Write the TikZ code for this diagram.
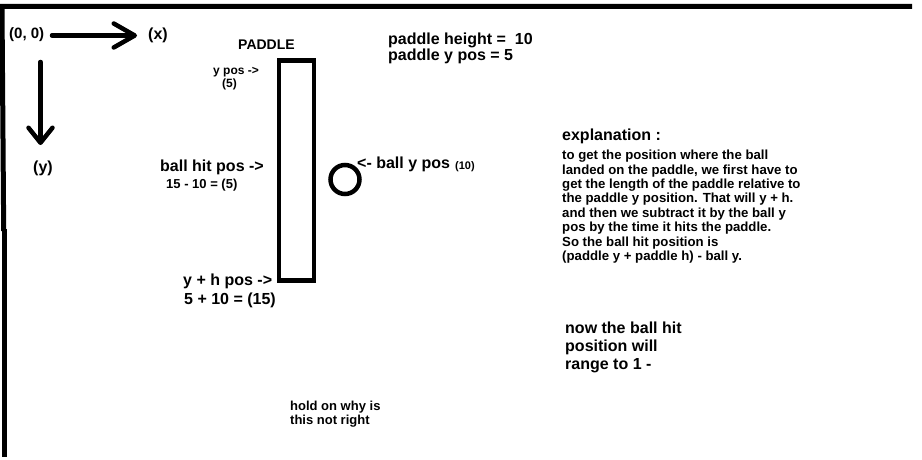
\documentclass[tikz,border=0pt]{standalone}
\usepackage{fontspec}
\setmainfont{Liberation Sans}
\usetikzlibrary{arrows.meta}

\tikzset{
  txt/.style={anchor=base west,inner sep=0pt,font=\bfseries\fontsize{16}{18}\selectfont},
  smalltxt/.style={txt,font=\bfseries\fontsize{12}{14}\selectfont},
  thickline/.style={line width=4.5pt},
  axis/.style={thickline,line cap=round}
}

\begin{document}
\begin{tikzpicture}[x=1pt,y=-1pt]
  \useasboundingbox (0,0) rectangle (922,460);

  % Frame
  \coordinate (TL) at (2,6.5);
  \coordinate (TR) at (912,6.5);
  \draw[line width=5pt] (TR) -- (TL) -- (3.7,231);
  \draw[line width=5pt] (4.7,229) -- (4.7,457);

  % Axes
  \node[txt,font=\bfseries\fontsize{15}{17}\selectfont] (origin) at (9,38.5) {(0, 0)};
  \coordinate (xstart) at (52,35.5);
  \coordinate (xend) at (137,35.5);
  \coordinate (ystart) at (40.5,62);
  \coordinate (yend) at (40.5,145);
  \draw[axis,-{Straight Barb[length=21pt,width=24pt,round]}] (xstart) -- (xend);
  \draw[axis,-{Straight Barb[length=15pt,width=24pt,round]}] (ystart) -- (yend);
  \node[txt] (xlabel) at (148,39.5) {(x)};
  \node[txt] (ylabel) at (33,172) {(y)};

  % Paddle
  \node[txt,font=\bfseries\fontsize{14}{16}\selectfont] (paddlename) at (238,50) {PADDLE};
  \draw[thickline] (279,60.5) rectangle (314,280.5);
  \node[smalltxt] (ypos) at (213,75) {y pos ->};
  \node[smalltxt] (yposval) at (222,88) {(5)};
  \node[txt] (hitpos) at (160,171.5) {ball hit pos ->};
  \node[smalltxt,font=\bfseries\fontsize{13}{15}\selectfont] (hitposval) at (166,188.3) {15 - 10 = (5)};
  \node[txt] (yhpos) at (183,285) {y + h pos ->};
  \node[txt] (yhposval) at (184,304) {5 + 10 = (15)};

  % Ball
  \draw[thickline] (345,179.5) circle (14.5);
  \node[txt] (ballpos) at (357,168) {<- ball y pos};
  \node[txt,font=\bfseries\fontsize{11}{13}\selectfont] (ballposval) at (455,169.5) {(10)};

  % Values
  \node[txt] (height) at (388,45) {paddle height = \ 10};
  \node[txt] (paddley) at (388,60.7) {paddle y pos = 5};

  % Explanation
  \node[txt] (explhead) at (562,140) {explanation :};
  \node[anchor=north west,inner sep=0pt,align=left,
        font=\bfseries\fontsize{13.2}{14.4}\selectfont] (expl) at (562,150)
    {to get the position where the ball\\
     landed on the paddle, we first have to\\
     get the length of the paddle relative to\\
     the paddle y position. That will y + h.\\
     and then we subtract it by the ball y\\
     pos by the time it hits the paddle.\\
     So the ball hit position is\\
     (paddle y + paddle h) - ball y.};

  % Range note
  \node[anchor=north west,inner sep=0pt,align=left,
        font=\bfseries\fontsize{16}{18}\selectfont] (range) at (565,321.6)
    {now the ball hit\\ position will\\ range to 1 -};

  % Question
  \node[anchor=north west,inner sep=0pt,align=left,
        font=\bfseries\fontsize{13}{14.3}\selectfont] (question) at (290,400.7)
    {hold on why is\\ this not right};
\end{tikzpicture}
\end{document}
